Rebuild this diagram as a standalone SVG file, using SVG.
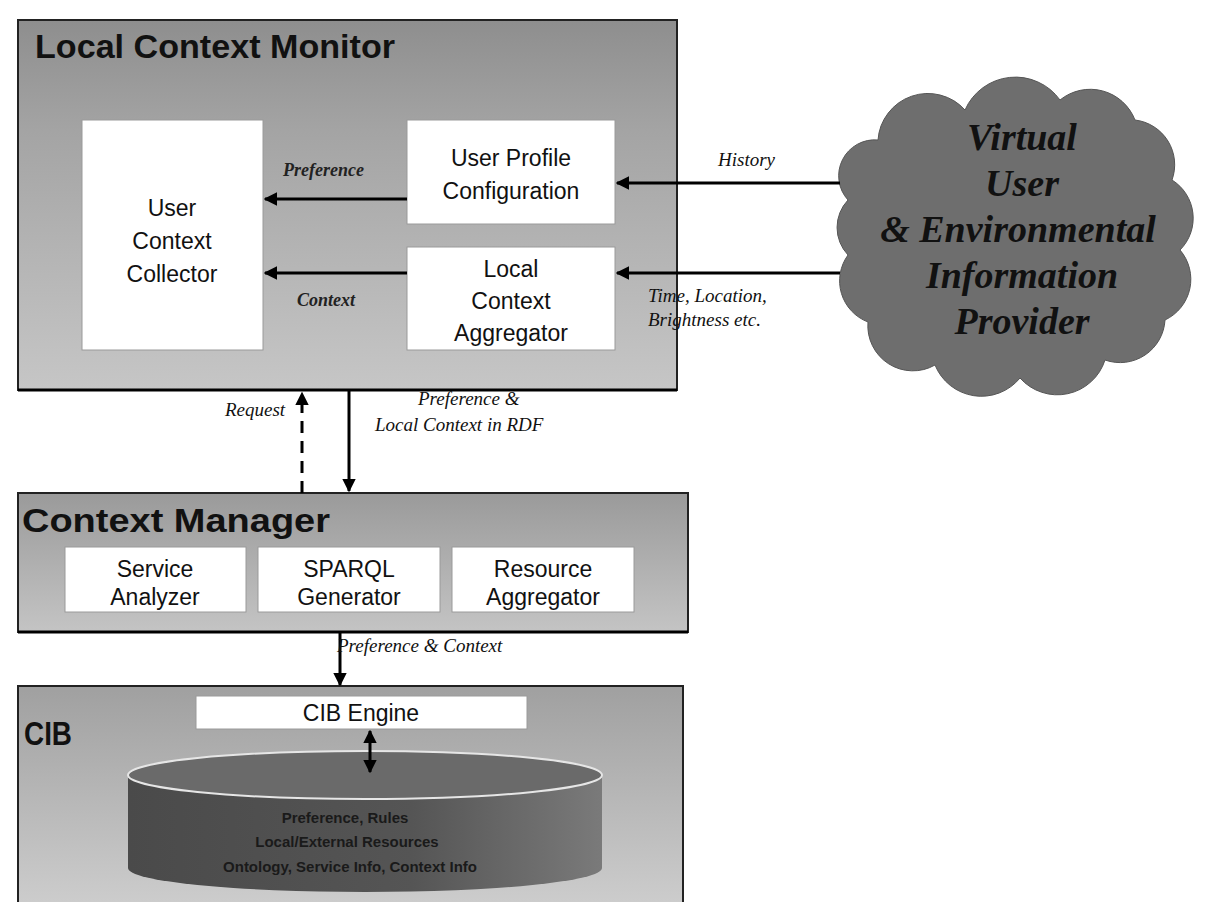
<svg xmlns="http://www.w3.org/2000/svg" width="1228" height="902" viewBox="0 0 1228 902">
  <style>
    .panel { stroke: #222; stroke-width: 2; }
    .box { fill: #fff; stroke: #9a9a9a; stroke-width: 1; }
    .title { font-family: "Liberation Sans", Arial, sans-serif; font-weight: bold; fill: #111; }
    .lbl { font-family: "Liberation Sans", Arial, sans-serif; font-size: 23px; fill: #111; text-anchor: middle; }
    .edge { font-family: "Liberation Serif", "Times New Roman", serif; font-style: italic; font-size: 19px; fill: #111; }
    .edgeb { font-family: "Liberation Serif", "Times New Roman", serif; font-style: italic; font-weight: bold; font-size: 18px; fill: #222; }
    .cloudtxt { font-family: "Liberation Serif", "Times New Roman", serif; font-style: italic; font-weight: bold; font-size: 38px; fill: #111; text-anchor: middle; }
    .dbtxt { font-family: "Liberation Sans", Arial, sans-serif; font-weight: bold; font-size: 15px; fill: #1a1a1a; text-anchor: middle; }
    .wire { stroke: #000; stroke-width: 3; fill: none; }
    .dash { stroke: #000; stroke-width: 3; fill: none; stroke-dasharray: 12 8; }
  </style>
  <defs>
    <linearGradient id="gLcm" x1="0" y1="0" x2="0" y2="1">
      <stop offset="0" stop-color="#8e8e8e"/>
      <stop offset="0.3" stop-color="#a4a4a4"/>
      <stop offset="1" stop-color="#c6c6c6"/>
    </linearGradient>
    <linearGradient id="gCm" x1="0" y1="0" x2="0" y2="1">
      <stop offset="0" stop-color="#9a9a9a"/>
      <stop offset="1" stop-color="#c4c4c4"/>
    </linearGradient>
    <linearGradient id="gCib" x1="0" y1="0" x2="0" y2="1">
      <stop offset="0" stop-color="#a0a0a0"/>
      <stop offset="1" stop-color="#cfcfcf"/>
    </linearGradient>
    <linearGradient id="gDb" x1="0" y1="0" x2="1" y2="0">
      <stop offset="0" stop-color="#4a4a4a"/>
      <stop offset="0.6" stop-color="#555"/>
      <stop offset="1" stop-color="#7a7a7a"/>
    </linearGradient>
    <marker id="ah" viewBox="0 0 10 10" refX="9" refY="5" markerWidth="4.5" markerHeight="4.5" orient="auto-start-reverse">
      <path d="M0,0 L10,5 L0,10 z" fill="#000"/>
    </marker>
  </defs>

  <rect width="1228" height="902" fill="#fff"/>

  <!-- Local Context Monitor panel -->
  <g id="local-context-monitor">
    <rect class="panel" x="18" y="20" width="659" height="370" fill="url(#gLcm)"/>
    <line x1="18" y1="390" x2="677" y2="390" stroke="#000" stroke-width="3"/>
    <text class="title" x="35" y="58" font-size="34" textLength="360" lengthAdjust="spacingAndGlyphs">Local Context Monitor</text>
  </g>

  <g id="user-context-collector">
    <rect class="box" x="82" y="120" width="181" height="230"/>
    <text class="lbl" x="172" y="216">User</text>
    <text class="lbl" x="172" y="249">Context</text>
    <text class="lbl" x="172" y="282">Collector</text>
  </g>

  <g id="user-profile-configuration">
    <rect class="box" x="407" y="120" width="208" height="104"/>
    <text class="lbl" x="511" y="166">User Profile</text>
    <text class="lbl" x="511" y="199">Configuration</text>
  </g>

  <g id="local-context-aggregator">
    <rect class="box" x="407" y="247" width="208" height="103"/>
    <text class="lbl" x="511" y="277">Local</text>
    <text class="lbl" x="511" y="309">Context</text>
    <text class="lbl" x="511" y="341">Aggregator</text>
  </g>

  <!-- External information source (cloud) -->
  <g id="virtual-provider">
    <path fill="#6e6e6e" stroke="#555" stroke-width="1"
      d="M878,140 A50,50 0 0 1 965,110 A55,55 0 0 1 1060,100 A48,48 0 0 1 1135,120 A45,45 0 0 1 1172,180 A45,45 0 0 1 1180,250 A45,45 0 0 1 1165,320 A45,45 0 0 1 1105,360 A50,50 0 0 1 1020,378 A50,50 0 0 1 935,365 A45,45 0 0 1 868,322 A44,44 0 0 1 848,255 A40,40 0 0 1 848,200 A36,36 0 0 1 878,140 Z"/>
    <text class="cloudtxt" x="1022" y="150">Virtual</text>
    <text class="cloudtxt" x="1022" y="196">User</text>
    <text class="cloudtxt" x="1018" y="242">&amp; Environmental</text>
    <text class="cloudtxt" x="1022" y="288">Information</text>
    <text class="cloudtxt" x="1022" y="334">Provider</text>
  </g>

  <!-- Context Manager panel -->
  <g id="context-manager">
    <rect class="panel" x="18" y="493" width="670" height="139" fill="url(#gCm)"/>
    <line x1="18" y1="632" x2="688" y2="632" stroke="#000" stroke-width="3"/>
    <text class="title" x="22" y="532" font-size="34" textLength="308" lengthAdjust="spacingAndGlyphs">Context Manager</text>
  </g>
  <g id="service-analyzer">
    <rect class="box" x="65" y="547" width="181" height="65"/>
    <text class="lbl" x="155" y="577">Service</text>
    <text class="lbl" x="155" y="605">Analyzer</text>
  </g>
  <g id="sparql-generator">
    <rect class="box" x="258" y="547" width="182" height="65"/>
    <text class="lbl" x="349" y="577">SPARQL</text>
    <text class="lbl" x="349" y="605">Generator</text>
  </g>
  <g id="resource-aggregator">
    <rect class="box" x="452" y="547" width="182" height="65"/>
    <text class="lbl" x="543" y="577">Resource</text>
    <text class="lbl" x="543" y="605">Aggregator</text>
  </g>

  <!-- CIB panel -->
  <g id="cib">
    <rect class="panel" x="18" y="686" width="665" height="230" fill="url(#gCib)"/>
    <text class="title" x="24" y="745" font-size="34" textLength="48" lengthAdjust="spacingAndGlyphs">CIB</text>
  </g>
  <g id="cib-engine">
    <rect class="box" x="196" y="696" width="331" height="33"/>
    <text class="lbl" x="361" y="721" font-size="22">CIB Engine</text>
  </g>
  <g id="knowledge-base">
    <path fill="url(#gDb)" d="M128,775 L128,868 A237,24 0 0 0 602,868 L602,775 Z"/>
    <ellipse cx="365" cy="775" rx="237" ry="24" fill="#6a6a6a" stroke="#e6e6e6" stroke-width="2"/>
    <text class="dbtxt" x="345" y="823">Preference, Rules</text>
    <text class="dbtxt" x="347" y="847">Local/External Resources</text>
    <text class="dbtxt" x="350" y="872">Ontology, Service Info, Context Info</text>
  </g>

  <!-- Connectors -->
  <g id="connectors">
    <line class="wire" x1="840" y1="183" x2="617" y2="183" marker-end="url(#ah)"/>
    <line class="wire" x1="840" y1="273" x2="617" y2="273" marker-end="url(#ah)"/>
    <line class="wire" x1="407" y1="199" x2="265" y2="199" marker-end="url(#ah)"/>
    <line class="wire" x1="407" y1="273" x2="265" y2="273" marker-end="url(#ah)"/>
    <line class="dash" x1="302" y1="493" x2="302" y2="393" marker-end="url(#ah)"/>
    <line class="wire" x1="349" y1="391" x2="349" y2="491" marker-end="url(#ah)"/>
    <line class="wire" x1="340" y1="633" x2="340" y2="685" marker-end="url(#ah)"/>
    <line class="wire" x1="370" y1="731" x2="370" y2="772" marker-start="url(#ah)" marker-end="url(#ah)"/>

    <text class="edgeb" x="283" y="176">Preference</text>
    <text class="edgeb" x="297" y="306">Context</text>
    <text class="edge" x="718" y="166">History</text>
    <text class="edge" x="648" y="302">Time, Location,</text>
    <text class="edge" x="648" y="326">Brightness etc.</text>
    <text class="edge" x="225" y="416">Request</text>
    <text class="edge" x="418" y="405">Preference &amp;</text>
    <text class="edge" x="375" y="431">Local Context in RDF</text>
    <text class="edge" x="337" y="652">Preference &amp; Context</text>
  </g>
</svg>
